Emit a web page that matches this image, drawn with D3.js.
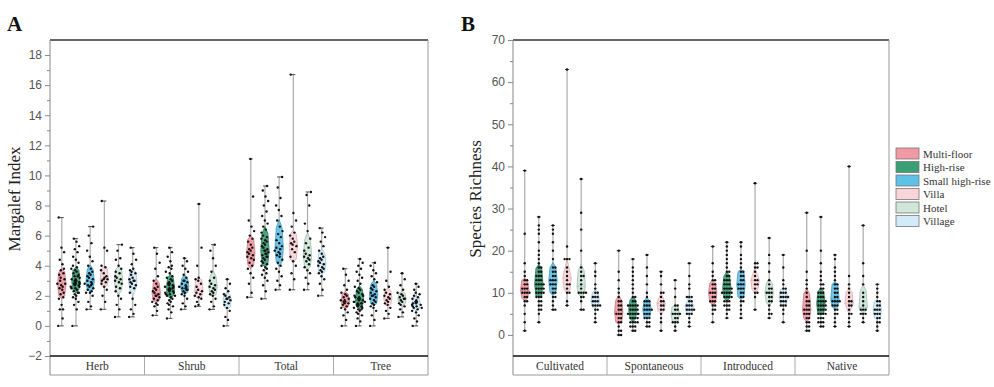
<!DOCTYPE html>
<meta charset="utf-8">
<style>
body { margin: 0; background: #fff; }
svg { font-family: 'Liberation Serif', 'Times New Roman', serif; }
.tick text { font-size: 12px; fill: #555; }
.strip text { font-size: 11.5px; fill: #333; }
.legend text { font-size: 11px; fill: #333; }
</style>
<body>
<svg width="994" height="387"></svg>
<script src="https://d3js.org/d3.v7.min.js"></script>
<script>

var types = ["Multi-floor", "High-rise", "Small high-rise", "Villa", "Hotel", "Village"];
var fills = ["#f29aa3", "#3b9f75", "#5ec1e8", "#f9d5d9", "#cfe6d9", "#d3ebf8"];
var edges = ["#c46c76", "#23704f", "#3a8fb6", "#d7a3aa", "#93b7a3", "#98bfd6"];

var groupsA = ["Herb", "Shrub", "Total", "Tree"];
var groupsB = ["Cultivated", "Spontaneous", "Introduced", "Native"];
var ticksA = [-2, 0, 2, 4, 6, 8, 10, 12, 14, 16, 18];
var minorA = [-1, 1, 3, 5, 7, 9, 11, 13, 15, 17];
var ticksB = [0, 10, 20, 30, 40, 50, 60, 70];
var minorB = [5, 15, 25, 35, 45, 55, 65];

// Margalef index, one array per building type
var herb = [
  [0, 0.5, 1.1, 1.1, 1.4, 1.8, 1.9, 2.1, 2.2, 2.4, 2.5, 2.6, 2.7, 2.8, 2.8, 3.0, 3.1, 3.2, 3.4, 3.5, 3.7, 3.8, 4.1, 4.4, 4.9, 5.2, 7.2],
  [0, 1.1, 1.4, 1.6, 1.8, 1.9, 2.0, 2.1, 2.2, 2.2, 2.3, 2.4, 2.5, 2.5, 2.6, 2.6, 2.7, 2.7, 2.8, 2.8, 2.8, 2.9, 2.9, 3.0, 3.0, 3.1, 3.1, 3.2, 3.3, 3.3, 3.4, 3.5, 3.6, 3.7, 3.8, 3.9, 4.0, 4.2, 4.4, 4.6, 4.9, 5.1, 5.3, 5.6, 5.8],
  [1.1, 1.3, 1.6, 2.0, 2.2, 2.2, 2.3, 2.4, 2.5, 2.6, 2.7, 2.7, 2.8, 2.8, 2.9, 3.0, 3.1, 3.2, 3.3, 3.4, 3.5, 3.6, 3.8, 4.0, 4.3, 4.6, 5.0, 5.5, 6.0, 6.6],
  [1.1, 1.6, 2.0, 2.4, 2.6, 2.8, 2.9, 3.0, 3.1, 3.1, 3.2, 3.3, 3.5, 3.7, 3.9, 4.0, 5.0, 5.2, 8.3],
  [0.6, 1.1, 1.4, 1.8, 2.0, 2.3, 2.5, 2.6, 2.8, 2.9, 3.0, 3.1, 3.2, 3.3, 3.5, 3.6, 3.8, 4.0, 4.4, 4.5, 5.0, 5.4],
  [0.6, 0.8, 1.1, 1.4, 1.8, 2.2, 2.5, 2.6, 2.7, 2.8, 2.9, 3.0, 3.0, 3.1, 3.2, 3.4, 3.5, 3.6, 3.7, 3.8, 4.1, 4.4, 4.8, 5.2]
];
var shrub = [
  [0.7, 1.0, 1.3, 1.4, 1.5, 1.6, 1.7, 1.8, 1.9, 2.0, 2.0, 2.1, 2.2, 2.3, 2.4, 2.5, 2.6, 2.8, 3.0, 3.3, 3.8, 4.2, 4.8, 5.2],
  [0.5, 0.9, 1.1, 1.3, 1.4, 1.5, 1.6, 1.7, 1.8, 1.9, 2.0, 2.0, 2.1, 2.1, 2.2, 2.2, 2.3, 2.3, 2.4, 2.4, 2.5, 2.5, 2.6, 2.6, 2.7, 2.7, 2.8, 2.8, 2.9, 3.0, 3.1, 3.2, 3.3, 3.5, 3.6, 3.8, 3.9, 4.0, 4.3, 4.6, 4.9, 5.2],
  [1.1, 1.3, 1.5, 1.8, 2.0, 2.1, 2.2, 2.3, 2.4, 2.4, 2.5, 2.5, 2.6, 2.6, 2.7, 2.8, 2.9, 3.0, 3.0, 3.2, 3.4, 3.6, 3.8, 4.0, 4.3, 4.5],
  [1.3, 1.4, 1.6, 1.8, 1.9, 2.0, 2.1, 2.2, 2.3, 2.4, 2.6, 2.8, 3.0, 3.1, 3.2, 4.0, 5.2, 8.1],
  [1.1, 1.3, 1.6, 1.8, 2.0, 2.1, 2.2, 2.3, 2.4, 2.5, 2.6, 2.7, 2.8, 3.0, 3.2, 3.6, 4.0, 4.5, 5.0, 5.4],
  [0, 0.4, 0.6, 1.0, 1.2, 1.4, 1.5, 1.6, 1.7, 1.8, 1.8, 1.9, 2.0, 2.1, 2.3, 2.5, 2.8, 3.1]
];
var total = [
  [1.9, 2.2, 2.8, 3.2, 3.5, 3.8, 4.0, 4.2, 4.4, 4.5, 4.6, 4.7, 4.8, 4.9, 5.0, 5.1, 5.2, 5.4, 5.6, 5.8, 6.0, 6.3, 6.6, 7.0, 8.6, 11.1],
  [1.8, 2.3, 2.7, 3.0, 3.2, 3.4, 3.5, 3.7, 3.8, 3.9, 4.0, 4.1, 4.2, 4.3, 4.4, 4.5, 4.6, 4.6, 4.7, 4.8, 4.8, 4.9, 5.0, 5.0, 5.1, 5.2, 5.3, 5.4, 5.5, 5.6, 5.7, 5.8, 5.9, 6.0, 6.2, 6.4, 6.6, 6.8, 7.0, 7.3, 7.6, 8.0, 8.3, 8.6, 9.0, 9.3],
  [2.4, 2.7, 3.0, 3.3, 3.6, 3.8, 4.0, 4.2, 4.4, 4.6, 4.7, 4.8, 4.9, 5.0, 5.1, 5.2, 5.3, 5.5, 5.7, 5.9, 6.1, 6.3, 6.6, 7.0, 7.3, 7.7, 8.0, 8.5, 9.2, 9.9],
  [2.4, 3.1, 3.5, 4.0, 4.3, 4.6, 4.9, 5.1, 5.3, 5.4, 5.5, 5.6, 5.8, 6.0, 6.2, 6.6, 7.0, 7.5, 16.7],
  [2.4, 2.8, 3.2, 3.5, 3.7, 3.9, 4.1, 4.3, 4.4, 4.5, 4.6, 4.7, 4.8, 5.0, 5.2, 5.5, 5.8, 6.3, 6.8, 8.0, 8.7, 8.9],
  [2.0, 2.4, 2.8, 3.1, 3.3, 3.5, 3.6, 3.7, 3.8, 3.9, 4.0, 4.1, 4.2, 4.3, 4.4, 4.5, 4.6, 4.8, 5.0, 5.3, 5.6, 5.9, 6.2, 6.5]
];
var tree = [
  [0, 0.4, 0.7, 0.9, 1.1, 1.2, 1.3, 1.4, 1.5, 1.5, 1.6, 1.6, 1.7, 1.7, 1.8, 1.9, 2.0, 2.1, 2.2, 2.4, 2.7, 3.0, 3.4, 3.8],
  [0, 0.3, 0.5, 0.7, 0.8, 0.9, 1.0, 1.1, 1.1, 1.2, 1.2, 1.3, 1.3, 1.4, 1.4, 1.5, 1.5, 1.5, 1.6, 1.6, 1.6, 1.7, 1.7, 1.8, 1.8, 1.9, 1.9, 2.0, 2.0, 2.1, 2.2, 2.3, 2.4, 2.5, 2.6, 2.8, 3.0, 3.2, 3.4, 3.6, 3.8, 4.0, 4.2, 4.45],
  [0, 0.4, 0.7, 1.0, 1.2, 1.3, 1.4, 1.5, 1.6, 1.7, 1.8, 1.9, 2.0, 2.0, 2.1, 2.2, 2.3, 2.4, 2.5, 2.6, 2.7, 2.9, 3.1, 3.3, 3.5, 3.7, 4.0, 4.2],
  [0.5, 0.8, 1.0, 1.2, 1.4, 1.5, 1.6, 1.7, 1.8, 1.9, 2.0, 2.1, 2.2, 2.4, 2.6, 3.0, 3.6, 5.2],
  [0.6, 0.9, 1.1, 1.3, 1.4, 1.5, 1.6, 1.7, 1.8, 1.8, 1.9, 2.0, 2.1, 2.2, 2.4, 2.7, 3.1, 3.5],
  [0, 0.3, 0.5, 0.7, 0.9, 1.0, 1.1, 1.2, 1.2, 1.3, 1.3, 1.4, 1.4, 1.5, 1.5, 1.6, 1.6, 1.7, 1.8, 1.9, 2.0, 2.1, 2.2, 2.4, 2.6, 2.8]
];

// species richness
var cultivated = [
  [1, 3, 5, 7, 8, 8, 9, 9, 10, 10, 10, 10, 11, 11, 11, 12, 12, 13, 13, 14, 15, 17, 24, 39],
  [3, 5, 6, 6, 7, 7, 8, 8, 9, 9, 9, 10, 10, 10, 10, 11, 11, 11, 11, 12, 12, 12, 12, 13, 13, 13, 14, 14, 14, 15, 15, 16, 16, 17, 18, 19, 20, 22, 24, 25, 26, 28],
  [6, 6, 7, 8, 9, 9, 10, 10, 11, 11, 12, 12, 12, 13, 13, 13, 14, 14, 15, 15, 16, 16, 18, 20, 22, 24, 25, 26],
  [7, 8, 10, 10, 11, 12, 12, 13, 14, 15, 16, 18, 18, 18, 21, 63],
  [6, 6, 8, 9, 9, 10, 10, 10, 10, 11, 12, 13, 14, 14, 15, 16, 20, 25, 29, 37],
  [3, 4, 5, 6, 6, 7, 7, 7, 7, 8, 8, 8, 9, 9, 9, 10, 10, 11, 12, 14, 15, 17]
];
var spontaneous = [
  [0, 0, 1, 1, 2, 3, 3, 4, 4, 5, 5, 5, 6, 6, 7, 7, 8, 8, 9, 10, 11, 13, 15, 20],
  [1, 1, 2, 2, 2, 3, 3, 3, 3, 4, 4, 4, 4, 5, 5, 5, 5, 5, 5, 6, 6, 6, 6, 7, 7, 7, 7, 7, 8, 8, 9, 9, 10, 11, 12, 13, 14, 15, 16, 18],
  [2, 2, 3, 3, 4, 4, 4, 5, 5, 5, 6, 6, 6, 6, 7, 7, 7, 8, 8, 8, 9, 10, 12, 14, 16, 19],
  [1, 3, 4, 5, 6, 6, 7, 7, 8, 8, 9, 10, 10, 12, 14, 15],
  [1, 2, 3, 3, 3, 4, 4, 5, 5, 5, 5, 6, 6, 7, 7, 9, 11, 13],
  [2, 3, 4, 5, 5, 5, 6, 6, 6, 6, 7, 7, 7, 8, 8, 9, 9, 9, 11, 12, 14, 17]
];
var introduced = [
  [3, 5, 6, 6, 7, 7, 8, 8, 8, 9, 9, 10, 10, 10, 11, 11, 12, 12, 13, 13, 14, 15, 17, 21],
  [4, 5, 6, 6, 7, 7, 7, 8, 8, 8, 9, 9, 9, 9, 10, 10, 10, 10, 10, 11, 11, 11, 11, 12, 12, 12, 13, 13, 13, 14, 14, 15, 15, 16, 17, 18, 19, 20, 21, 22],
  [4, 5, 6, 7, 8, 8, 9, 9, 10, 10, 11, 11, 11, 12, 12, 12, 13, 13, 14, 14, 15, 15, 16, 17, 18, 19, 21, 22],
  [6, 9, 10, 10, 11, 12, 12, 13, 13, 14, 15, 16, 16, 17, 17, 36],
  [4, 5, 5, 6, 7, 8, 8, 9, 9, 10, 10, 10, 11, 11, 12, 13, 15, 17, 19, 23],
  [3, 5, 6, 7, 7, 7, 8, 8, 8, 9, 9, 9, 9, 10, 10, 10, 11, 11, 12, 13, 16, 19]
];
var native = [
  [1, 1, 2, 2, 3, 3, 4, 4, 5, 5, 5, 6, 6, 6, 7, 7, 8, 8, 9, 10, 11, 12, 13, 15, 20, 29],
  [2, 2, 3, 3, 3, 4, 4, 4, 5, 5, 5, 5, 6, 6, 6, 6, 7, 7, 7, 7, 8, 8, 8, 8, 9, 9, 9, 10, 10, 10, 11, 11, 12, 12, 13, 14, 15, 17, 20, 28],
  [2, 3, 4, 5, 5, 6, 6, 7, 7, 7, 8, 8, 8, 8, 9, 9, 10, 10, 11, 11, 12, 12, 13, 14, 15, 16, 18, 19],
  [2, 3, 4, 5, 5, 6, 7, 7, 8, 8, 9, 10, 11, 12, 14, 40],
  [3, 4, 5, 5, 5, 6, 6, 6, 7, 8, 9, 10, 12, 14, 17, 26],
  [1, 2, 3, 3, 4, 4, 5, 5, 5, 6, 6, 6, 7, 7, 8, 8, 9, 10, 11, 12]
];

var svg = d3.select("svg");
var yTop = 40, yBot = 356, stripBot = 375;

function drawPanel(o) {
  var g = svg.append("g");
  var y = d3.scaleLinear().domain(o.domain).range([yBot, yTop]);
  var gx = d3.scaleBand().domain(o.groups).range([o.x0, o.x1]);
  var tx = d3.scalePoint().domain(types).range([0, gx.bandwidth()]).padding(0.83);

  // frame
  g.append("line").attr("x1", o.x0).attr("x2", o.x1).attr("y1", yTop).attr("y2", yTop)
    .attr("stroke", "#333").attr("stroke-width", 1.3);
  g.append("line").attr("x1", o.x1).attr("x2", o.x1).attr("y1", yTop).attr("y2", stripBot)
    .attr("stroke", "#999");

  // minor ticks then labelled ticks
  g.append("g").attr("transform", "translate(" + o.x0 + ",0)")
    .call(d3.axisLeft(y).tickValues(o.minor).tickSize(3).tickFormat(""))
    .call(a => a.select(".domain").remove())
    .selectAll("line").attr("stroke", "#888");
  var ax = g.append("g").attr("transform", "translate(" + o.x0 + ",0)")
    .call(d3.axisLeft(y).tickValues(o.ticks).tickSize(5).tickPadding(3).tickSizeOuter(0));
  ax.select(".domain").attr("stroke", "#888").attr("d", "M0," + yTop + "V" + stripBot);
  ax.selectAll(".tick line").attr("stroke", "#888");

  // category strip
  var strip = g.append("g").attr("class", "strip");
  strip.append("line").attr("x1", o.x0).attr("x2", o.x1).attr("y1", stripBot).attr("y2", stripBot)
    .attr("stroke", "#999");
  strip.selectAll("line.div").data(o.groups.slice(1)).join("line").attr("class", "div")
    .attr("x1", d => gx(d)).attr("x2", d => gx(d)).attr("y1", yBot).attr("y2", stripBot)
    .attr("stroke", "#aaa");
  strip.selectAll("text").data(o.groups).join("text")
    .attr("x", d => gx(d) + gx.bandwidth() / 2).attr("y", 370)
    .attr("text-anchor", "middle").text(d => d);

  var area = d3.area().y(d => y(d.v)).x0(d => -d.w).x1(d => d.w);

  o.groups.forEach(function(grp, gi) {
    o.data[gi].forEach(function(vals, ti) {
      var cx = gx(grp) + tx(types[ti]);
      var c = g.append("g").attr("transform", "translate(" + cx + ",0)");
      var s = vals.slice().sort(d3.ascending);
      var ext = d3.extent(s);

      c.append("line").attr("y1", y(ext[0])).attr("y2", y(ext[1]))
        .attr("stroke", "#aaa").attr("stroke-width", 1.2);
      c.selectAll("line.cap").data(ext).join("line").attr("class", "cap")
        .attr("x1", -2).attr("x2", 2).attr("y1", d => y(d)).attr("y2", d => y(d))
        .attr("stroke", "#222").attr("stroke-width", 0.8);

      // trimmed violin: pointed ends at the 20th/80th percentiles
      var qs = [0.2, 0.25, 0.5, 0.75, 0.8].map(p => d3.quantile(s, p));
      var ws = [0, 0.7, 1, 0.7, 0];
      var shape = [];
      qs.forEach(function(v, i) {
        var last = shape[shape.length - 1];
        if (last && Math.abs(last.v - v) < 1e-9) last.w = Math.max(last.w, ws[i] * 4.2);
        else shape.push({v: v, w: ws[i] * 4.2});
      });
      shape[0].w = 0;
      shape[shape.length - 1].w = 0;
      c.append("path").attr("d", area(shape))
        .attr("fill", fills[ti]).attr("fill-opacity", 0.9)
        .attr("stroke", edges[ti]).attr("stroke-width", 0.7);
      var med = d3.median(s), mw = 4.2 * 0.9;
      c.append("line").attr("x1", -mw).attr("x2", mw)
        .attr("y1", y(med)).attr("y2", y(med))
        .attr("stroke", edges[ti]).attr("stroke-width", 0.7)
        .attr("stroke-dasharray", "2,1");

      // points, spread sideways where they share a level
      var seen = {};
      var pts = vals.map(function(v, i) {
        var key = o.integer ? v : Math.round(y(v) / 3);
        var n = seen[key] = (seen[key] || 0) + 1;
        var dx;
        if (o.integer) {
          dx = n === 1 ? 0 : (n % 2 ? -1 : 1) * Math.floor(n / 2) * 2.4;
        } else {
          dx = ((i * 0.618034) % 1 - 0.5) * 7 + (n - 1) * 1.2 * (n % 2 ? 1 : -1);
        }
        return {v: v, dx: Math.max(-5.5, Math.min(5.5, dx))};
      });
      c.selectAll("circle").data(pts).join("circle")
        .attr("cx", d => d.dx).attr("cy", d => y(d.v)).attr("r", 1.2)
        .attr("fill", "#111");
    });
  });

  g.append("line").attr("x1", o.x0).attr("x2", o.x1).attr("y1", yBot).attr("y2", yBot)
    .attr("stroke", "#111").attr("stroke-width", 1.6);

  svg.append("text").attr("x", o.letterX).attr("y", 31)
    .attr("font-size", 21).attr("font-weight", "bold").attr("fill", "#111").text(o.letter);
  svg.append("text")
    .attr("transform", "translate(" + o.titleX + "," + 199 + ") rotate(-90)")
    .attr("text-anchor", "middle").attr("font-size", 17).attr("fill", "#222")
    .text(o.title);
}

drawPanel({
  x0: 50, x1: 428, domain: [-2, 19], ticks: ticksA, minor: minorA,
  groups: groupsA, data: [herb, shrub, total, tree], integer: false,
  letter: "A", letterX: 7, title: "Margalef Index", titleX: 20
});
drawPanel({
  x0: 513, x1: 889, domain: [-5, 70], ticks: ticksB, minor: minorB,
  groups: groupsB, data: [cultivated, spontaneous, introduced, native], integer: true,
  letter: "B", letterX: 461, title: "Species Richness", titleX: 481
});

// legend
var legend = svg.append("g").attr("class", "legend").attr("transform", "translate(896,148)");
var row = legend.selectAll("g").data(types).join("g")
  .attr("transform", (d, i) => "translate(0," + i * 13.5 + ")");
row.append("rect").attr("width", 23).attr("height", 11)
  .attr("fill", (d, i) => fills[i]).attr("stroke", "#777").attr("stroke-width", 0.8);
row.append("text").attr("x", 27).attr("y", 9.5).text(d => d);

</script>
</body>
